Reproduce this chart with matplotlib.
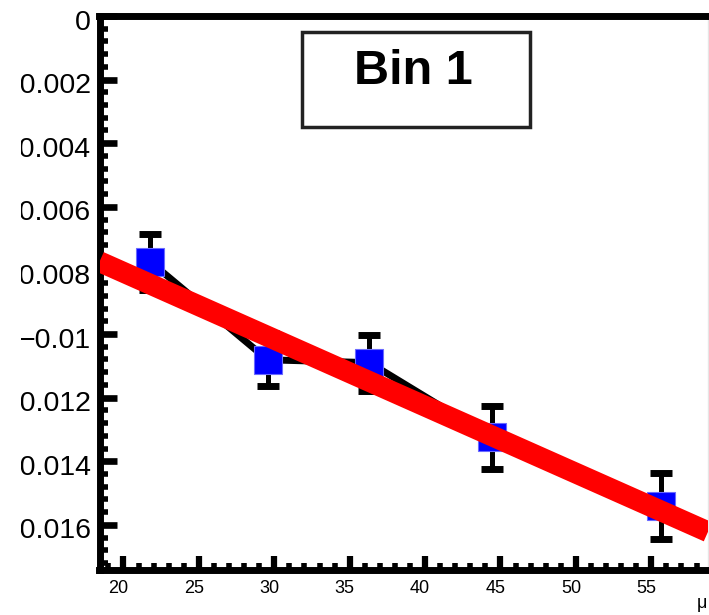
import matplotlib
matplotlib.use("Agg")
import matplotlib.pyplot as plt
import matplotlib.transforms as mtransforms
from matplotlib.patches import Rectangle
from matplotlib.ticker import MultipleLocator, FuncFormatter
import numpy as np

plt.rcParams['font.family'] = ['Liberation Sans', 'DejaVu Sans']

# data
x_vals = [21.76, 29.56, 36.3, 44.45, 55.64]
y_vals = [-0.00772, -0.01081, -0.01090, -0.01325, -0.01541]
y_err = [0.00088, 0.00084, 0.00088, 0.00098, 0.00104]
fit_p0 = -0.00385
fit_p1 = -0.0002105
title_text = "Bin 1"
xtick_vals = [20, 25, 30, 35, 40, 45, 50, 55]
ytick_vals = [0, -0.002, -0.004, -0.006, -0.008, -0.01, -0.012, -0.014, -0.016]

W, H = 709, 615
fig = plt.figure(figsize=(W / 100, H / 100), dpi=100)
left, right, top, bottom = 99.5, 708.0, 16.0, 570.0
ax = fig.add_axes([left / W, (H - bottom) / H, (right - left) / W, (bottom - top) / H])

xlim = (18.41, 58.76)
ylim = (-0.01742, 0.0)
ax.set_xlim(*xlim)
ax.set_ylim(*ylim)

# connecting line
ax.plot(x_vals, y_vals, color='black', lw=5, zorder=2, solid_joinstyle='miter')
# error bars
ax.errorbar(x_vals, y_vals, yerr=y_err, fmt='none', ecolor='black', elinewidth=3.6,
            capsize=8, capthick=5, zorder=2)
# markers
ax.plot(x_vals, y_vals, ls='none', marker='s', markersize=20, markerfacecolor='#0000ff',
        markeredgecolor='#6a6aff', markeredgewidth=0.8, zorder=3)
# fit line
xf = np.array(xlim)
ax.plot(xf, fit_p0 + fit_p1 * xf, color='#ff0000', lw=15, zorder=4, solid_capstyle='butt')

# spines
for s in ['left', 'bottom', 'top']:
    ax.spines[s].set_linewidth(5)
    ax.spines[s].set_color('black')
ax.spines['right'].set_linewidth(1)
ax.spines['right'].set_color('#e6e6e6')

ax.xaxis.set_minor_locator(MultipleLocator(1))
ax.yaxis.set_minor_locator(MultipleLocator(0.0004))
ax.set_xticks(xtick_vals)
ax.set_yticks(ytick_vals)

def yfmt(v, pos):
    if abs(v) < 1e-12:
        return "0"
    return ("%g" % v).replace('-', '\u2212')

ax.yaxis.set_major_formatter(FuncFormatter(yfmt))
ax.xaxis.set_major_formatter(FuncFormatter(lambda v, p: "%d" % round(v)))

ax.tick_params(axis='both', which='both', direction='in', top=False, right=False)
ax.tick_params(axis='y', which='major', length=12, width=4.8, labelsize=20.5, pad=6)
ax.tick_params(axis='y', which='minor', length=6, width=4)
ax.tick_params(axis='x', which='major', length=10, width=4.5, labelsize=13, pad=7)
ax.tick_params(axis='x', which='minor', length=5, width=4)

xoff = mtransforms.ScaledTranslation(-5 / 100, 0, fig.dpi_scale_trans)
for lbl in ax.get_xticklabels():
    lbl.set_transform(lbl.get_transform() + xoff)
yoff = mtransforms.ScaledTranslation(0, -3.5 / 100, fig.dpi_scale_trans)
for lbl in ax.get_yticklabels():
    lbl.set_transform(lbl.get_transform() + yoff)

# clip region at far left (labels cut off in the original canvas)
fig.patches.append(Rectangle((0, 0), 20.5 / W, 1, transform=fig.transFigure,
                             facecolor='white', edgecolor='none', zorder=20))

# title box
bx0, bx1, by0, by1 = 301.5, 530.0, 32.0, 127.0
rect = Rectangle((bx0 / W, (H - by1) / H), (bx1 - bx0) / W, (by1 - by0) / H,
                 transform=fig.transFigure, facecolor='white', edgecolor='#222222',
                 linewidth=2.5, zorder=10)
fig.patches.append(rect)
fig.text(413 / W, (H - 71) / H, title_text, fontsize=35, fontweight='bold',
         ha='center', va='center', zorder=11)

# x axis title (cut off)
fig.text(697 / W, (H - 604) / H, "\u03bc", fontsize=13, ha='left', va='center')

fig.savefig("out.png", dpi=100)
